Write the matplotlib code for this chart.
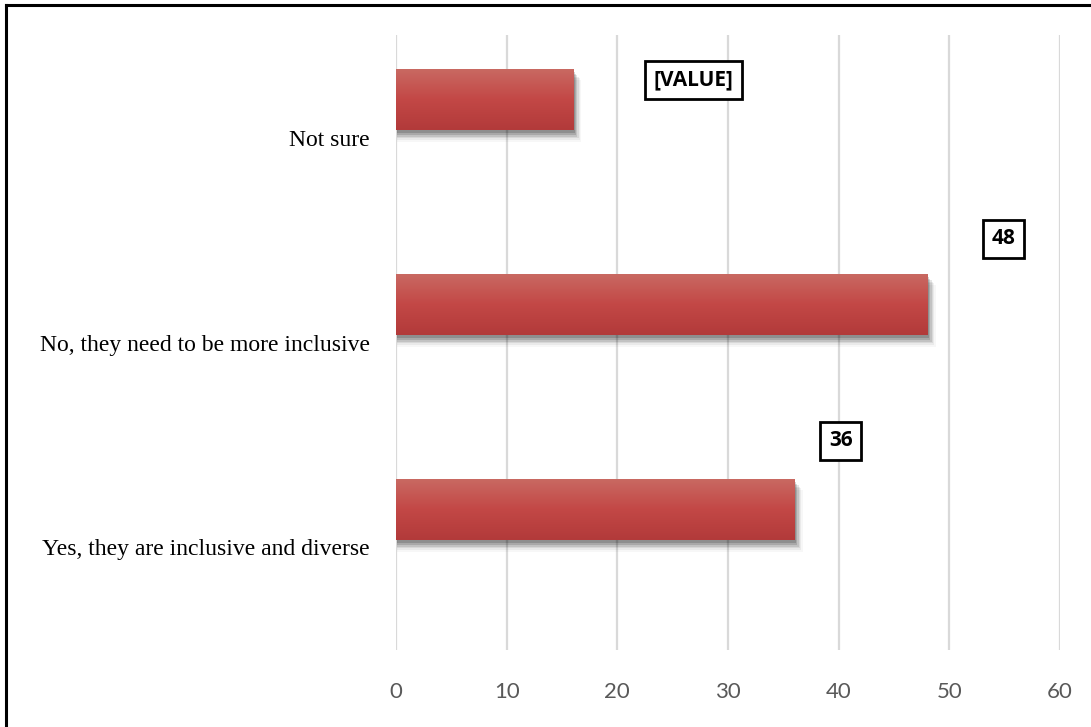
import numpy as np
import matplotlib.pyplot as plt
from matplotlib.lines import Line2D
from matplotlib.colors import LinearSegmentedColormap

categories = ["Yes, they are inclusive and diverse",
              "No, they need to be more inclusive",
              "Not sure"]
values = [36, 48, 16]
label_texts = ["36", "48", "[VALUE]"]
xticks = [0, 10, 20, 30, 40, 50, 60]

# where the data labels were dragged to (data coords)
label_pos = [(40.2, 0.52), (54.9, 1.505), (26.9, 2.28)]

fig = plt.figure(figsize=(10.91, 7.27), dpi=100)
W, H = 1091, 727
ax = fig.add_axes([396 / W, 1 - 650 / H, (1060 - 396) / W, (650 - 35) / H])

ax.set_xlim(0, 60)
ax.set_ylim(-0.5, 2.5)
ax.set_xticks(xticks)
ax.set_xticklabels([str(t) for t in xticks], fontfamily="Lato", fontsize=16, color="#595959")
ax.set_yticks(range(len(categories)))
ax.set_yticklabels(categories, fontfamily="Liberation Serif", fontsize=17, color="black")
ax.tick_params(length=0)
ax.tick_params(axis="x", pad=23)
ax.tick_params(axis="y", pad=19)
for s in ax.spines.values():
    s.set_visible(False)
ax.grid(axis="x", color="#d9d9d9", linewidth=1.6)
ax.set_axisbelow(True)

# bars sit in the upper slot of each category band
bar_h = 0.30
bar_off = 0.185
grad = LinearSegmentedColormap.from_list("bar", ["#b23a3a", "#c34846", "#c96a63"])
gimg = np.linspace(0, 1, 256).reshape(-1, 1)

for i, v in enumerate(values):
    yc = i + bar_off
    # soft drop shadow
    for k, a in enumerate([0.16, 0.13, 0.10, 0.07, 0.05, 0.03]):
        dx = 0.15 + 0.12 * k
        dy = 0.015 + 0.008 * k
        ax.add_patch(plt.Rectangle((0.1, yc - bar_h / 2 - dy), v + dx - 0.1, bar_h,
                                   facecolor="black", alpha=a, linewidth=0, zorder=2))
    bar = ax.barh(yc, v, height=bar_h, color="#c0474a", linewidth=0, zorder=3)[0]
    im = ax.imshow(gimg, cmap=grad, aspect="auto", origin="lower",
                   extent=[0, v, yc - bar_h / 2, yc + bar_h / 2], zorder=4)
    im.set_clip_path(bar)

ax.set_xlim(0, 60)
ax.set_ylim(-0.5, 2.5)

for txt, (x, y) in zip(label_texts, label_pos):
    ax.text(x, y, txt, ha="center", va="center", fontfamily="Open Sans",
            fontweight="bold", fontsize=15, color="black", zorder=6,
            bbox=dict(boxstyle="square,pad=0.42", facecolor="white",
                      edgecolor="black", linewidth=2))

# frame around the chart area
fig.add_artist(Line2D([6 / W, 1], [1 - 5 / H, 1 - 5 / H], color="black", linewidth=2.2))
fig.add_artist(Line2D([6 / W, 6 / W], [0, 1 - 5 / H], color="black", linewidth=2.2))

fig.savefig("out.png", dpi=100)
